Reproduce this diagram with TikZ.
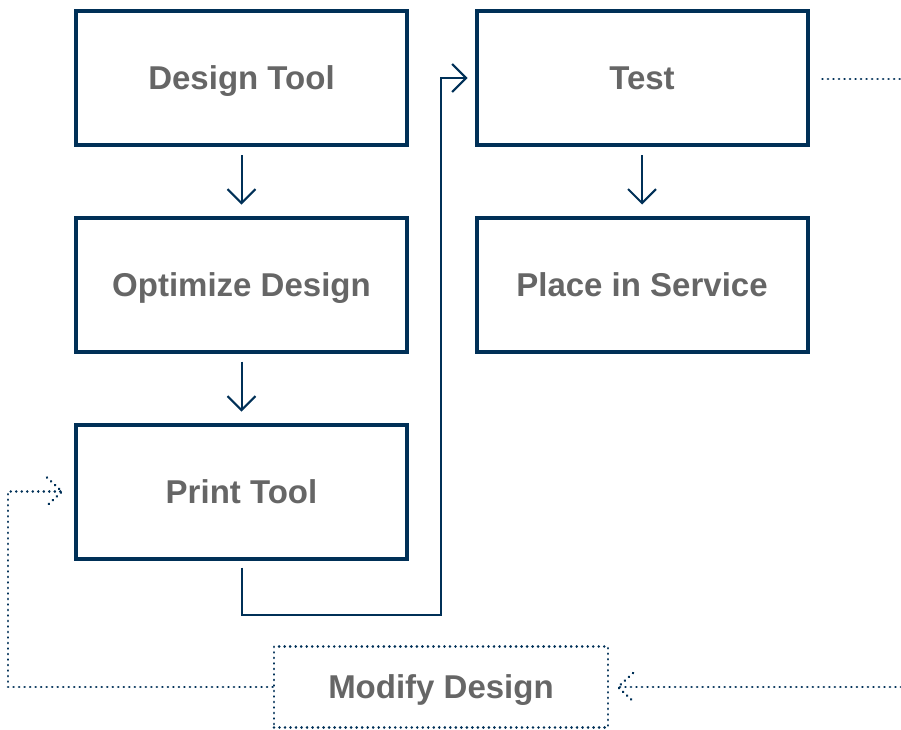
\documentclass[tikz,border=0pt]{standalone}
\usepackage{fontspec}
\setmainfont{Liberation Sans}
\usetikzlibrary{arrows.meta,calc}
\definecolor{navy}{RGB}{0,48,87}
\definecolor{txtgrey}{RGB}{102,102,102}
\tikzset{
  stepbox/.style={draw=navy, line width=4pt, rectangle, minimum width=331pt, minimum height=134pt,
    text=txtgrey, font=\fontsize{33}{38}\selectfont\bfseries, inner sep=0pt, text height=23.5pt, text depth=0pt},
  dotbox/.style={draw=navy, line width=2.8pt, dash pattern=on 0.01pt off 5.5pt, line cap=round, rectangle,
    minimum width=334pt, minimum height=81pt, text=txtgrey, font=\fontsize{33}{38}\selectfont\bfseries,
    inner sep=0pt, text height=23.5pt, text depth=0pt},
  arr/.style={draw=navy, line width=2pt, -{Straight Barb[length=14pt,width=28pt,line width=2pt]}},
  dotline/.style={draw=navy, line width=2.8pt, dash pattern=on 0.01pt off 5.5pt, line cap=round},
}
\begin{document}
\begin{tikzpicture}[x=1pt,y=-1pt]
\useasboundingbox (0,0) rectangle (901,729);
\node[stepbox] (design) at (241.5,78) {Design Tool};
\node[stepbox] (optimize) at (241.5,284.5) {Optimize Design};
\node[stepbox] (print) at (241.5,491.5) {Print Tool};
\node[stepbox] (test) at (642,78) {Test};
\node[stepbox] (place) at (642,284.5) {Place in Service};
\node[dotbox] (modify) at (441,687) {Modify Design};

\draw[arr] ([yshift=-8pt]design.south) -- ([yshift=11pt]optimize.north);
\draw[arr] ([yshift=-8pt]optimize.south) -- ([yshift=11pt]print.north);
\draw[arr] ([yshift=-8pt]test.south) -- ([yshift=11pt]place.north);

\coordinate (pbot) at (241.5,615);
\coordinate (pcorner) at (441,615);
\draw[arr] ([yshift=-7pt]print.south) -- (pbot) -- (pcorner) |- ([xshift=-7pt]test.west);

% dotted from Test to right edge
\coordinate (testout) at (901,79);
\draw[dotline] ([xshift=13pt]test.east |- testout) -- (testout);

% dotted return from right into Modify Design
\coordinate (rightin) at (901,687);
\coordinate (mtip) at (618,687);
\draw[dotline] (rightin) -- (mtip);
\draw[dotline] ($(mtip)+(15,-14)$) -- (mtip) -- ($(mtip)+(15,14)$);

% dotted from Modify Design back to Print Tool
\coordinate (lc1) at (8,687);
\coordinate (ptip) at ($(print.west)+(-12,0)$);
\draw[dotline] (modify.west |- lc1) -- (lc1) |- (ptip);
\draw[dotline] ($(ptip)+(-15,-14)$) -- (ptip) -- ($(ptip)+(-15,14)$);
\end{tikzpicture}
\end{document}
